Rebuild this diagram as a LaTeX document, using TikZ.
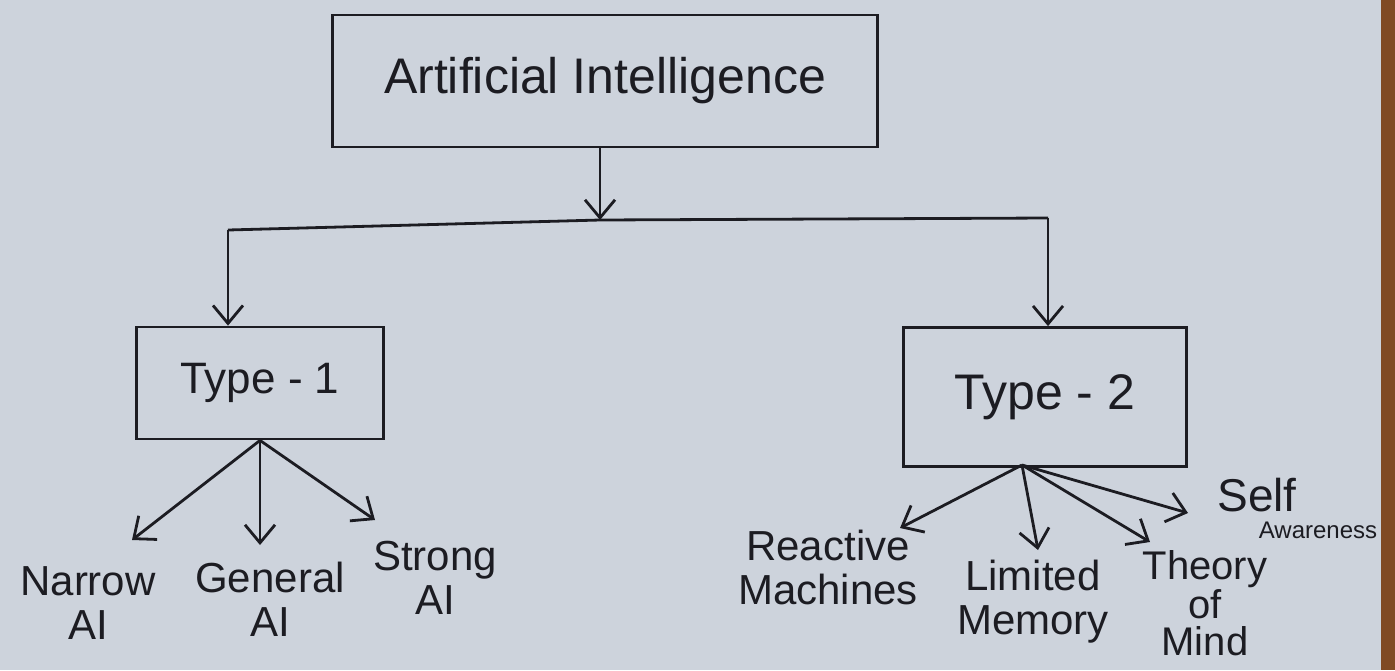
\documentclass[tikz,border=0pt]{standalone}
\usepackage{fontspec}
\setmainfont{Liberation Sans}
\usetikzlibrary{arrows.meta}

\definecolor{paper}{RGB}{205,211,220}
\definecolor{ink}{RGB}{28,28,34}
\definecolor{woodedge}{RGB}{128,74,36}

\begin{document}
\begin{tikzpicture}[x=0.5pt, y=-0.5pt,
    every node/.style={text=ink},
    box/.style={draw=ink, line width=1.4pt, inner sep=0pt},
    leaf/.style={align=center, inner sep=0pt, font=\fontsize{21}{22}\selectfont},
    wire/.style={draw=ink, line width=1.4pt},
    arr/.style={wire, -{Straight Barb[length=9pt, width=15pt, line width=1.4pt]}},
    ]
  % paper and page edge
  \fill[paper] (0,0) rectangle (1395,670);
  \fill[woodedge] (1381,0) rectangle (1395,670);
  \useasboundingbox (0,0) rectangle (1395,670);

  % boxes
  \node[box, minimum width=272.5pt, minimum height=66pt,
        font=\fontsize{25}{28}\selectfont] (ai) at (605,81) {Artificial Intelligence};
  \node[box, minimum width=123.5pt, minimum height=56pt,
        font=\fontsize{22}{24}\selectfont] (t1) at (260,383) {Type - 1};
  \node[box, minimum width=141.5pt, minimum height=69.5pt,
        font=\fontsize{25}{28}\selectfont] (t2) at (1045,397) {Type - 2};

  % split from the top box
  \coordinate (split) at (600,220);
  \coordinate (barl) at (228,230);
  \coordinate (barr) at (1048,218);
  \draw[arr] (split |- ai.south) -- (split);
  \draw[wire] (barl) -- (split) -- (barr);
  \draw[arr] (barl) -- (barl |- t1.north);
  \draw[arr] (barr) -- (barr |- t2.north);

  % type 1 leaves
  \node[leaf] (narrow) at (88,603) {Narrow\\AI};
  \node[leaf] (general) at (270,599) {General\\AI};
  \node[leaf] (strong) at (435,578) {Strong\\AI};
  \coordinate (narrowtip) at (132,540);
  \coordinate (generaltip) at (260,545);
  \coordinate (strongtip) at (375,520);
  \foreach \tip in {narrowtip, generaltip, strongtip}
    \draw[arr] (t1.south) -- (\tip);

  % type 2 leaves
  \node[leaf] (reactive) at (828,567) {Reactive\\Machines};
  \node[leaf] (limited) at (1033,602) {Limited\\Memory};
  \node[leaf, font=\fontsize{20}{18.5}\selectfont] (theory) at (1205,603) {Theory\\of\\Mind};
  \node[inner sep=0pt, font=\fontsize{23}{24}\selectfont] (self) at (1257,495) {Self};
  \node[inner sep=0pt, font=\fontsize{12}{13}\selectfont] (selfaw) at (1318,530) {Awareness};
  \coordinate (t2o) at (1022,465);
  \coordinate (reactivetip) at (900,528);
  \coordinate (limitedtip) at (1038,550);
  \coordinate (theorytip) at (1150,542);
  \coordinate (selftip) at (1188,513);
  \foreach \tip in {reactivetip, limitedtip, theorytip, selftip}
    \draw[arr] (t2o) -- (\tip);
\end{tikzpicture}
\end{document}
